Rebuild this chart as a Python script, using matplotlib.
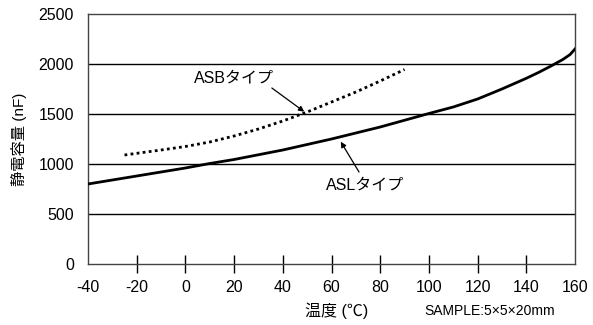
import matplotlib
matplotlib.use("Agg")
import matplotlib.pyplot as plt

plt.rcParams['font.family'] = ['Liberation Sans', 'Noto Sans CJK JP']

# ASL type: capacitance vs temperature
asl_temp = [-40, -20, 0, 10, 20, 40, 60, 80, 100, 110, 120, 130, 140, 145, 150, 155, 158, 160]
asl_cap = [800, 880, 960, 1005, 1045, 1140, 1250, 1370, 1505, 1570, 1650, 1750,
           1857, 1915, 1978, 2045, 2095, 2150]

# ASB type
asb_temp = [-25, -10, 0, 10, 20, 30, 40, 50, 60, 70, 80, 90]
asb_cap = [1090, 1140, 1175, 1220, 1280, 1350, 1430, 1520, 1620, 1720, 1830, 1945]

x_ticks = [-40, -20, 0, 20, 40, 60, 80, 100, 120, 140, 160]
y_ticks = [0, 500, 1000, 1500, 2000, 2500]

fig = plt.figure(figsize=(5.93, 3.25), dpi=100)
ax = fig.add_axes([88 / 593, 1 - 264 / 325, 487 / 593, 250 / 325])

for y in y_ticks[1:-1]:
    ax.axhline(y, color='black', lw=1.0, zorder=1)

ax.plot(asl_temp, asl_cap, color='black', lw=2.0, zorder=3)
ax.plot(asb_temp, asb_cap, color='black', lw=2.0, ls=(0, (1, 1.2)), zorder=3)

ax.set_xlim(-40, 160)
ax.set_ylim(0, 2500)
ax.set_xticks(x_ticks)
ax.set_xticklabels([str(t) for t in x_ticks], fontsize=11.5)
ax.set_yticks(y_ticks)
ax.set_yticklabels([str(t) for t in y_ticks], fontsize=11.5)
ax.tick_params(axis='x', direction='inout', length=13, width=1, pad=5)
ax.tick_params(axis='y', length=0, pad=10)
for t in ax.xaxis.get_major_ticks()[::len(x_ticks) - 1]:
    t.tick1line.set_visible(False)
for s in ax.spines.values():
    s.set_color('#444444')
    s.set_linewidth(1.0)

arrow = dict(arrowstyle='-|>', color='black', lw=0.9, mutation_scale=8,
             shrinkA=0, shrinkB=0)
ax.text(36.2, 1860, 'ASBタイプ', fontsize=11.5, ha='right', va='center')
ax.annotate('', xy=(48.8, 1523), xytext=(35.5, 1760), arrowprops=arrow)
ax.text(73.6, 785, 'ASLタイプ', fontsize=11.5, ha='center', va='center')
ax.annotate('', xy=(63.8, 1223), xytext=(71.3, 920), arrowprops=arrow)

ax.set_ylabel('静電容量 (nF)', fontsize=11)
ax.yaxis.set_label_coords((27 - 88) / 487, 0.5)
fig.text(337 / 593, 1 - 311 / 325, '温度 (℃)', fontsize=11.5, ha='center', va='center')
fig.text(490 / 593, 1 - 311 / 325, 'SAMPLE:5×5×20mm', fontsize=10,
         ha='center', va='center')

fig.savefig('out.png', dpi=100)
